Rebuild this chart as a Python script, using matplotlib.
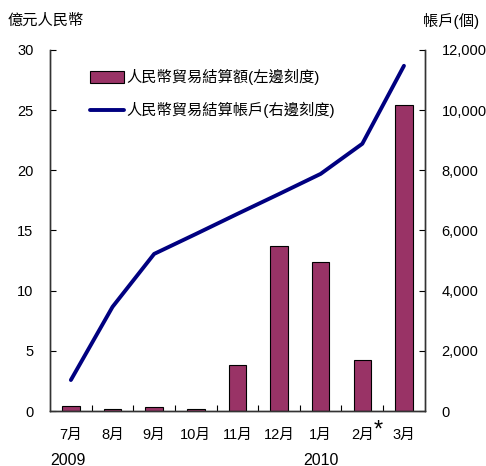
import numpy as np
from matplotlib import pyplot as plt

plt.rcParams['font.family'] = ['Liberation Sans', 'Noto Sans CJK TC']

months = ['7月', '8月', '9月', '10月', '11月', '12月', '1月', '2月', '3月']
# settlement amount, RMB 100 million (left scale)
amounts = [0.4, 0.15, 0.35, 0.15, 3.8, 13.7, 12.4, 4.2, 25.4]
# number of settlement accounts (right scale)
accounts = [1030, 3460, 5220, 5880, 6550, 7210, 7880, 8880, 11470]
years = ['2009', '2010']

bar_color = '#993366'
line_color = '#000080'

fig = plt.figure(figsize=(4.86, 4.66), dpi=100)
ax = fig.add_axes([0.103, 0.118, 0.771, 0.775])
ax2 = ax.twinx()

x = np.arange(len(months))
bars = ax.bar(x, amounts, width=0.42, color=bar_color, edgecolor='black',
              linewidth=0.8, label='人民幣貿易結算額(左邊刻度)', zorder=2)
line, = ax2.plot(x, accounts, color=line_color, linewidth=2.8,
                 solid_capstyle='round', label='人民幣貿易結算帳戶(右邊刻度)')

ax.set_xlim(-0.5, len(months) - 0.5)
ax.set_ylim(0, 30)
ax2.set_ylim(0, 12000)
ax.set_yticks(range(0, 31, 5))
ax2.set_yticks(range(0, 12001, 2000))
ax2.set_yticklabels([f'{v:,}' for v in range(0, 12001, 2000)])

# month labels at centres, small ticks between categories
ax.set_xticks(x)
ax.set_xticklabels(months)
ax.set_xticks(np.arange(0.5, len(months) - 0.5, 1), minor=True)
ax.tick_params(axis='x', which='major', length=0, pad=12, labelsize=10.5)
ax.tick_params(axis='x', which='minor', direction='in', length=4, width=0.8)
ax.tick_params(axis='y', direction='in', length=4, width=0.8, labelsize=10.5, pad=12)
ax2.tick_params(axis='y', direction='in', length=4, width=0.8, labelsize=10.5, pad=12)

for a in (ax, ax2):
    a.spines['top'].set_visible(False)
    for s in ('left', 'right', 'bottom'):
        a.spines[s].set_color('#333333')
        a.spines[s].set_linewidth(1.0)

# asterisk next to Feb
ax.text(7.27, -0.024, '*', transform=ax.get_xaxis_transform(), fontsize=17,
        ha='left', va='top')

ax.text(0.0, -0.115, years[0], transform=ax.transAxes, fontsize=11.5, va='top')
ax.text(6.0, -0.115, years[1], transform=ax.get_xaxis_transform(), fontsize=11.5,
        va='top', ha='center')

fig.text(0.016, 0.955, '億元人民幣', fontsize=11, va='center')
fig.text(0.985, 0.955, '帳戶(個)', fontsize=11, va='center', ha='right')

ax.legend([bars, line], [bars.get_label(), line.get_label()],
          loc='upper left', bbox_to_anchor=(0.07, 0.985), frameon=False,
          fontsize=11, handlelength=2.2, handleheight=0.9, handletextpad=0.15,
          labelspacing=1.1)

fig.savefig('out.png', dpi=100)
